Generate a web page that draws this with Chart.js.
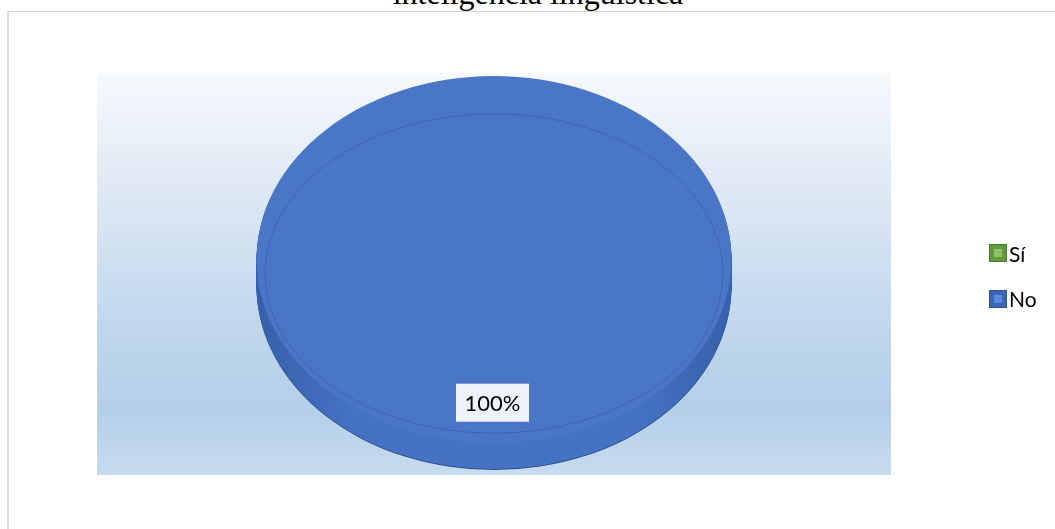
<!DOCTYPE html>
<html>
<head>
<meta charset="utf-8">
<script src="https://cdn.jsdelivr.net/npm/chart.js@4.4.1/dist/chart.umd.min.js"></script>
<style>
  html, body { margin: 0; padding: 0; background: #fff; overflow: hidden; }
  #wrap { position: relative; width: 1055px; height: 529px; overflow: hidden; }
  #frame { position: absolute; left: 7px; top: 11px; width: 1060px; height: 530px;
           border-left: 2px solid #dcdcdc; border-top: 1px solid #d4d4d4; }
  #title { position: absolute; left: 0; width: 1076px; top: -23px; text-align: center;
           font: 32px "Liberation Serif", serif; line-height: 32px; color: #000; }
  canvas { position: absolute; left: 0; top: 0; }
  .leg { position: absolute; left: 989px; height: 18px; display: flex; align-items: center;
         font: 21px Lato, sans-serif; color: #000; }
  .box { width: 16px; height: 16px; border: 1px solid; margin-right: 2px; position: relative; }
  .box span { position: absolute; left: 4px; top: 4px; width: 8px; height: 8px; }
</style>
</head>
<body>
<div id="wrap">
  <div id="frame"></div>
  <div id="title">inteligencia lingüística</div>
  <canvas id="chart" width="1055" height="529"></canvas>
</div>
<script>
// Datos
const labels = ["Sí", "No"];
const values = [0, 100];

// Colores
const topColors = ["#6aa743", "#4a76c6"];
const sideDark = ["#44752a", "#3560ab"];
const sideMid = ["#629d3e", "#4672c3"];
const sideEdge = ["#3a6624", "#2c4f8f"];
const legOuter = ["#5f9a3c", "#3b66b5"];
const legBorder = ["#4a7a2e", "#2f5597"];
const legInner = ["#8fc06b", "#5b8ad8"];

const TILT = 0.773;   // aplastamiento vertical
const DEPTH = 27;     // grosor del pastel
const LIFT = -14.5;   // desplazamiento de la cara superior

const chartEl = document.getElementById("chart");

const fondo = {
  id: "fondo",
  beforeDraw(chart) {
    const { ctx, chartArea: a } = chart;
    const g = ctx.createLinearGradient(0, a.top, 0, a.bottom);
    g.addColorStop(0, "#f6f9fd");
    g.addColorStop(0.3, "#dde8f4");
    g.addColorStop(0.65, "#bfd6ec");
    g.addColorStop(0.84, "#b4cfe9");
    g.addColorStop(1, "#c8dbef");
    ctx.save();
    ctx.fillStyle = g;
    ctx.fillRect(a.left, a.top, a.right - a.left, a.bottom - a.top);
    ctx.restore();
  },
};

const pie3d = {
  id: "pie3d",
  beforeDatasetsDraw(chart) {
    const ctx = chart.ctx;
    const meta = chart.getDatasetMeta(0);
    const cx = meta.data[0].x, cy = meta.data[0].y;
    const R = meta.data[0].outerRadius;
    // lateral
    for (let d = DEPTH; d >= 1; d--) {
      ctx.save();
      ctx.translate(cx, cy + LIFT + d);
      ctx.scale(1, TILT);
      meta.data.forEach((arc, i) => {
        if (arc.endAngle - arc.startAngle <= 0) return;
        const g = ctx.createLinearGradient(-R, 0, R, 0);
        g.addColorStop(0, sideDark[i]);
        g.addColorStop(0.2, sideMid[i]);
        g.addColorStop(0.8, sideMid[i]);
        g.addColorStop(1, sideDark[i]);
        ctx.beginPath();
        ctx.moveTo(0, 0);
        ctx.arc(0, 0, arc.outerRadius, arc.startAngle, arc.endAngle);
        ctx.closePath();
        ctx.fillStyle = d === DEPTH ? sideEdge[i] : g;
        ctx.fill();
      });
      ctx.restore();
    }
    ctx.save();
    ctx.translate(cx, cy + LIFT);
    ctx.scale(1, TILT);
    ctx.translate(-cx, -cy);
  },
  afterDatasetsDraw(chart) {
    const ctx = chart.ctx;
    ctx.restore();
    const meta = chart.getDatasetMeta(0);
    const cx = meta.data[0].x, cy = meta.data[0].y + LIFT;
    const R = meta.data[0].outerRadius;
    // borde biselado
    ctx.save();
    ctx.beginPath();
    ctx.ellipse(cx, cy + 14, R * 0.964, R * TILT * 0.87, 0, 0, Math.PI * 2);
    ctx.strokeStyle = "rgba(35,65,125,0.3)";
    ctx.lineWidth = 1;
    ctx.stroke();
    ctx.restore();
    // etiquetas
    const total = values.reduce((s, v) => s + v, 0);
    meta.data.forEach((arc, i) => {
      if (!values[i]) return;
      const mid = (arc.startAngle + arc.endAngle) / 2;
      const x = cx + Math.cos(mid) * R * 0.78 - 1.5;
      const y = cy + Math.sin(mid) * R * 0.78 * TILT;
      const txt = Math.round((values[i] / total) * 100) + "%";
      ctx.save();
      ctx.fillStyle = "#eef3fa";
      ctx.fillRect(x - 36.5, y - 19, 73, 38);
      ctx.font = "22px Lato, sans-serif";
      ctx.fillStyle = "#000";
      ctx.textAlign = "center";
      ctx.textBaseline = "middle";
      ctx.fillText(txt, x, y + 1);
      ctx.restore();
    });
  },
};

new Chart(chartEl.getContext("2d"), {
  type: "pie",
  data: {
    labels,
    datasets: [
      {
        data: values,
        backgroundColor: topColors,
        borderWidth: 0,
      },
    ],
  },
  options: {
    responsive: false,
    animation: false,
    radius: 237.5,
    layout: { padding: { left: 97, top: 73, right: 164, bottom: 54 } },
    plugins: {
      legend: { display: false },
      tooltip: { enabled: false },
    },
  },
  plugins: [fondo, pie3d],
});

// Leyenda
const wrap = document.getElementById("wrap");
labels.forEach((l, i) => {
  const d = document.createElement("div");
  d.className = "leg";
  d.style.top = 244 + i * 45.5 + "px";
  d.innerHTML =
    '<div class="box" style="background:' + legOuter[i] + ";border-color:" + legBorder[i] +
    '"><span style="background:' + legInner[i] + '"></span></div>' + l;
  wrap.appendChild(d);
});
</script>
</body>
</html>
